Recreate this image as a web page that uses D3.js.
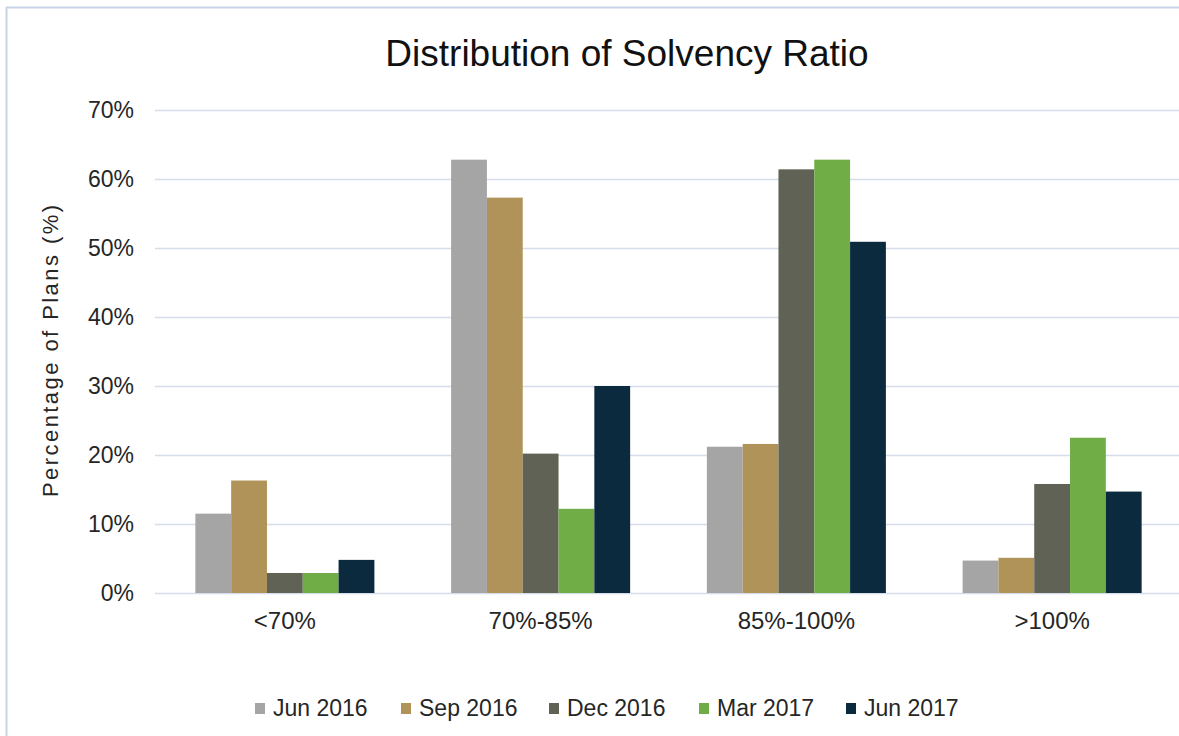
<!DOCTYPE html>
<html>
<head>
<meta charset="utf-8">
<script src="https://cdn.jsdelivr.net/npm/d3@7"></script>
<style>
  body { margin: 0; background: #fff; }
  svg { display: block; font-family: "Liberation Sans", Arial, sans-serif; }
</style>
</head>
<body>
<div id="chart"></div>
<script>
// categories and series
var categories = ["<70%", "70%-85%", "85%-100%", ">100%"];
var seriesNames = ["Jun 2016", "Sep 2016", "Dec 2016", "Mar 2017", "Jun 2017"];
var seriesColors = ["#a5a5a5", "#b09358", "#5f6254", "#70ad47", "#0b2a3e"];
var jun2016 = [11.5, 62.8, 21.2, 4.7];
var sep2016 = [16.3, 57.3, 21.6, 5.1];
var dec2016 = [2.9, 20.2, 61.4, 15.8];
var mar2017 = [2.9, 12.2, 62.8, 22.5];
var jun2017 = [4.8, 30.0, 50.9, 14.7];
var yTicks = [0, 10, 20, 30, 40, 50, 60, 70];

var seriesValues = [jun2016, sep2016, dec2016, mar2017, jun2017];

var width = 1179, height = 736;

var svg = d3.select("#chart").append("svg")
    .attr("width", width)
    .attr("height", height);

// frame lines at top and left
svg.append("line")
    .attr("x1", 6).attr("x2", width).attr("y1", 7.5).attr("y2", 7.5)
    .attr("stroke", "#c9d3e8").attr("stroke-width", 2);
svg.append("line")
    .attr("x1", 6.5).attr("x2", 6.5).attr("y1", 7).attr("y2", height)
    .attr("stroke", "#c9d3e8").attr("stroke-width", 2);

var x0 = d3.scaleBand()
    .domain(categories)
    .range([157, 1180])
    .paddingInner(0.3)
    .paddingOuter(0.15);

var x1 = d3.scaleBand()
    .domain(seriesNames)
    .range([0, x0.bandwidth()]);

var y = d3.scaleLinear()
    .domain([0, 70])
    .range([593, 110]);

// gridlines
svg.append("g")
    .selectAll("line")
    .data(yTicks)
    .enter()
    .append("line")
    .attr("x1", 155)
    .attr("x2", width)
    .attr("y1", d => Math.round(y(d)) + 0.5)
    .attr("y2", d => Math.round(y(d)) + 0.5)
    .attr("stroke", "#d5dcec")
    .attr("stroke-width", 1.5);

// y tick labels
svg.append("g")
    .selectAll("text")
    .data(yTicks)
    .enter()
    .append("text")
    .attr("x", 134)
    .attr("y", d => y(d))
    .attr("dy", "0.36em")
    .attr("text-anchor", "end")
    .style("font-size", "23px")
    .style("fill", "#262626")
    .text(d => d + "%");

// bars
var groups = svg.append("g")
    .selectAll("g")
    .data(categories)
    .enter()
    .append("g")
    .attr("transform", d => "translate(" + x0(d) + ",0)");

groups.selectAll("rect")
    .data((d, i) => seriesNames.map((s, j) => ({ name: s, value: seriesValues[j][i], color: seriesColors[j] })))
    .enter()
    .append("rect")
    .attr("x", d => x1(d.name))
    .attr("width", x1.bandwidth())
    .attr("y", d => y(d.value))
    .attr("height", d => y(0) - y(d.value))
    .attr("fill", d => d.color);

// x labels
svg.append("g")
    .selectAll("text")
    .data(categories)
    .enter()
    .append("text")
    .attr("x", d => x0(d) + x0.bandwidth() / 2)
    .attr("y", 629)
    .attr("text-anchor", "middle")
    .style("font-size", "24px")
    .style("fill", "#262626")
    .text(d => d);

// title
svg.append("text")
    .attr("x", 627)
    .attr("y", 66)
    .attr("text-anchor", "middle")
    .style("font-size", "37px")
    .style("fill", "#111")
    .text("Distribution of Solvency Ratio");

// y axis title
svg.append("text")
    .attr("transform", "translate(58,351) rotate(-90)")
    .attr("text-anchor", "middle")
    .attr("textLength", 292)
    .attr("lengthAdjust", "spacing")
    .style("font-size", "22px")
    .style("fill", "#262626")
    .text("Percentage of Plans (%)");

// legend
var legendX = [255, 401, 549, 699, 846];
var legend = svg.append("g")
    .selectAll("g")
    .data(seriesNames)
    .enter()
    .append("g")
    .attr("transform", (d, i) => "translate(" + legendX[i] + ",708)");

legend.append("rect")
    .attr("x", 0)
    .attr("y", -5)
    .attr("width", 10)
    .attr("height", 11)
    .attr("fill", (d, i) => seriesColors[i]);

legend.append("text")
    .attr("x", 18)
    .attr("y", 0)
    .attr("dy", "0.36em")
    .style("font-size", "23px")
    .style("fill", "#262626")
    .text(d => d);
</script>
</body>
</html>
